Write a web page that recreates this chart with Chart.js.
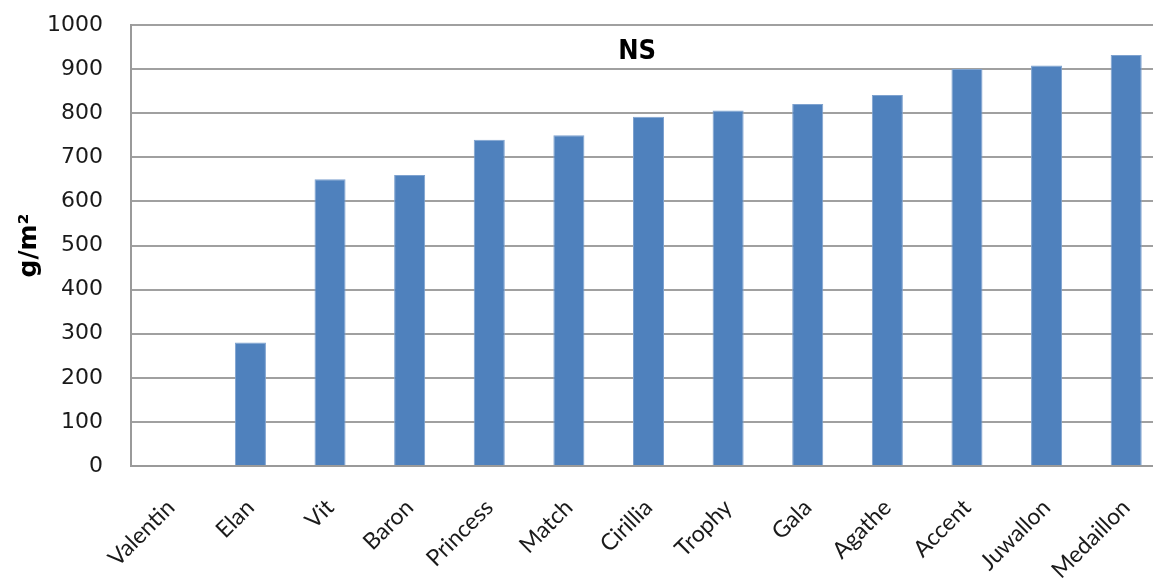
<!DOCTYPE html>
<html>
<head>
<meta charset="utf-8">
<script src="https://cdn.jsdelivr.net/npm/chart.js@4.4.1/dist/chart.umd.min.js"></script>
<style>
  html, body { margin: 0; padding: 0; background: #fff; overflow: hidden; }
  #wrap { width: 1166px; height: 582px; position: relative; }
</style>
</head>
<body>
<div id="wrap"><canvas id="barChart" width="1166" height="582"></canvas></div>
<script>
// varieties and their values (g/m2)
var varieties = ['Valentin', 'Elan', 'Vit', 'Baron', 'Princess', 'Match', 'Cirillia',
                 'Trophy', 'Gala', 'Agathe', 'Accent', 'Juwallon', 'Medaillon'];
var yieldValues = [0, 280, 650, 660, 740, 750, 792, 806, 821, 841, 900, 908, 932];
var yTicks = [0, 100, 200, 300, 400, 500, 600, 700, 800, 900, 1000];
var chartTitle = 'NS';
var yTitle = 'g/m\u00B2';

var ctx = document.getElementById('barChart').getContext('2d');

// draws the "NS" label inside the plot area, like the original
var innerTitle = {
    id: 'innerTitle',
    afterDraw: function (chart) {
        var a = chart.chartArea;
        var c = chart.ctx;
        c.save();
        c.font = 'bold 27px "Liberation Sans Narrow", "DejaVu Sans Condensed", "DejaVu Sans"';
        c.fillStyle = '#000';
        c.textAlign = 'center';
        c.textBaseline = 'middle';
        c.fillText(chartTitle, a.left + (a.right - a.left) * 0.489, 52);
        c.restore();
    }
};

var barChart = new Chart(ctx, {
    type: 'bar',
    data: {
        labels: varieties,
        datasets: [{
            label: chartTitle,
            data: yieldValues,
            backgroundColor: '#4f81bd',
            borderColor: '#7ea2cf',
            borderWidth: 1,
            barPercentage: 0.39,
            categoryPercentage: 1.0
        }]
    },
    options: {
        responsive: false,
        animation: false,
        layout: { padding: { top: 25, left: 14, right: 0, bottom: 0 } },
        plugins: {
            legend: { display: false },
            tooltip: { enabled: false }
        },
        scales: {
            x: {
                grid: { display: false, drawTicks: false },
                border: { color: '#9a9a9a', width: 2 },
                ticks: {
                    color: '#1a1a1a',
                    font: { family: 'Lato', size: 23 },
                    minRotation: 45,
                    maxRotation: 45,
                    padding: 28,
                    autoSkip: false
                },
                afterFit: function (scale) {
                    scale.height = 116;
                    scale.paddingLeft = 0;
                    scale.paddingRight = 0;
                }
            },
            y: {
                min: 0,
                max: 1000,
                afterBuildTicks: function (scale) {
                    scale.ticks = yTicks.map(function (v) { return { value: v }; });
                },
                grid: { color: '#a0a0a0', lineWidth: 2, drawTicks: false },
                border: { color: '#9a9a9a', width: 2 },
                ticks: {
                    color: '#1a1a1a',
                    font: { family: 'DejaVu Sans', size: 22 },
                    padding: 28,
                    callback: function (v) { return String(v); }
                },
                title: {
                    display: true,
                    text: yTitle,
                    color: '#000',
                    font: { family: 'DejaVu Sans', size: 25, weight: 'bold' },
                    padding: { top: 0, bottom: 0 }
                },
                afterFit: function (scale) {
                    scale.width = 117;
                    scale.paddingTop = 0;
                    scale.paddingBottom = 0;
                }
            }
        }
    },
    plugins: [innerTitle]
});
</script>
</body>
</html>
